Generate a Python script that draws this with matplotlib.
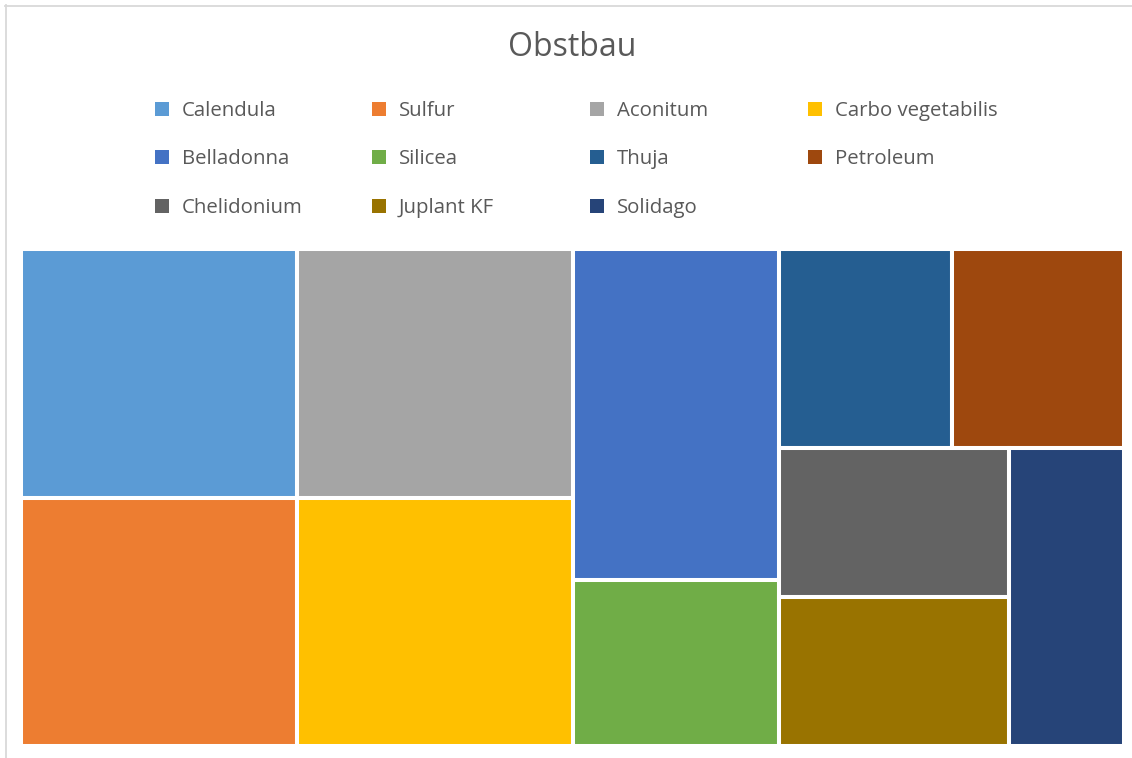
import matplotlib
matplotlib.use("Agg")
import matplotlib.pyplot as plt
from matplotlib.patches import Rectangle
from matplotlib.lines import Line2D

labels = ["Calendula", "Sulfur", "Aconitum", "Carbo vegetabilis", "Belladonna",
          "Silicea", "Thuja", "Petroleum", "Chelidonium", "Juplant KF", "Solidago"]
values = [2, 2, 2, 2, 2, 1, 1, 1, 1, 1, 1]
colors = ["#5B9BD5", "#ED7D31", "#A5A5A5", "#FFC000", "#4472C4",
          "#70AD47", "#255E91", "#9E480E", "#636363", "#997300", "#264478"]
title = "Obstbau"

FONT = "Open Sans"
TXT = "#595959"
W_PX, H_PX = 1132, 758
DPI = 100


def worst(row, short):
    s = sum(row)
    return max(max(short * short * r / (s * s), (s * s) / (short * short * r)) for r in row)


def squarify(vals, x, y, w, h):
    total = sum(vals)
    vals = [v * w * h / total for v in vals]
    rects = []
    while vals:
        short = min(w, h)
        row = [vals[0]]
        i = 1
        while i < len(vals) and worst(row + [vals[i]], short) <= worst(row, short):
            row.append(vals[i])
            i += 1
        s = sum(row)
        if w >= h:
            cw = s / h
            yy = y
            for v in row:
                rh = v / cw
                rects.append((x, yy, cw, rh))
                yy += rh
            x += cw
            w -= cw
        else:
            rh = s / w
            xx = x
            for v in row:
                rw = v / rh
                rects.append((xx, y, rw, rh))
                xx += rw
            y += rh
            h -= rh
        vals = vals[i:]
    return rects


fig = plt.figure(figsize=(W_PX / DPI, H_PX / DPI), dpi=DPI)
fig.patch.set_facecolor("white")

# Treemap axes
L, T, R, B = 21, 249, 1124, 746
TW, TH = R - L, B - T
ax = fig.add_axes([L / W_PX, 1 - B / H_PX, TW / W_PX, TH / H_PX])
ax.set_xlim(0, TW)
ax.set_ylim(TH, 0)
ax.axis("off")
for (x, y, w, h), c in zip(squarify(values, 0, 0, TW, TH), colors):
    ax.add_patch(Rectangle((x, y), w, h, facecolor=c, edgecolor="white",
                           linewidth=2.9, clip_on=False))

# Overlay for title, legend and frame (pixel coords)
ov = fig.add_axes([0, 0, 1, 1], zorder=-1)
ov.set_xlim(0, W_PX)
ov.set_ylim(H_PX, 0)
ov.axis("off")
ov.add_line(Line2D([5, W_PX], [5.5, 5.5], color="#D9D9D9", linewidth=1.3))
ov.add_line(Line2D([5.5, 5.5], [5, H_PX], color="#D9D9D9", linewidth=1.3))

ov.text(572, 47, title, ha="center", va="center", fontsize=23, color=TXT, family=FONT)

col_x = [155, 372, 590, 808]
row_y = [109, 157, 206]
for i, (lab, c) in enumerate(zip(labels, colors)):
    r, k = divmod(i, 4)
    mx, my = col_x[k], row_y[r]
    ov.add_patch(Rectangle((mx, my - 7), 14, 14, facecolor=c, edgecolor="none"))
    ov.text(mx + 27, my + 2, lab, ha="left", va="center", fontsize=14.7, color=TXT, family=FONT)

fig.savefig("out.png", dpi=DPI)
